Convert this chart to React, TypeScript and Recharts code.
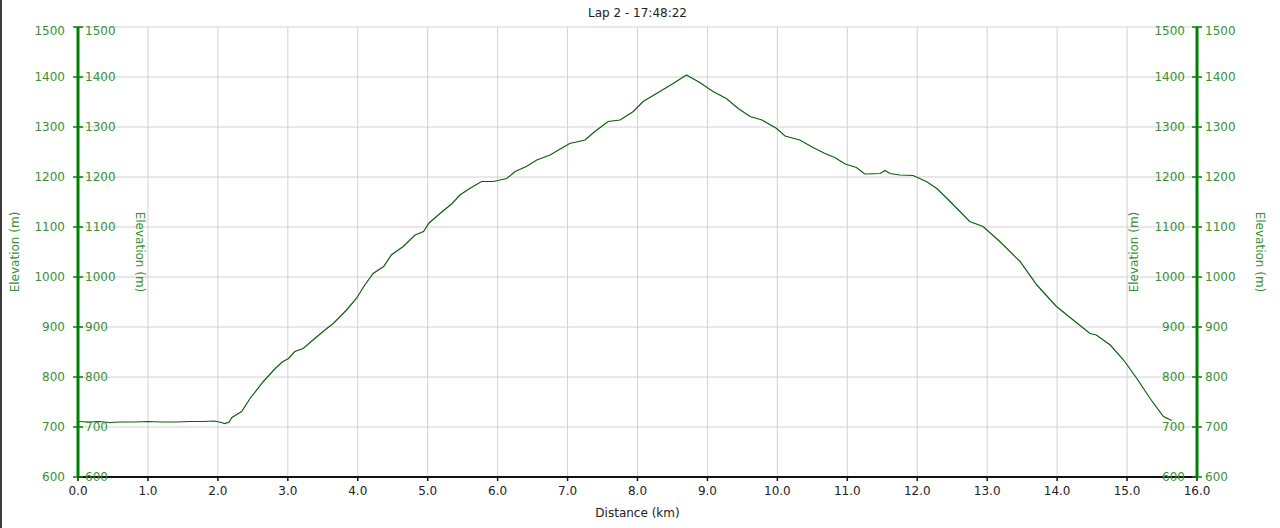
import { LineChart, Line, XAxis, YAxis, CartesianGrid } from 'recharts'

// distance along the lap (km) and the elevation read at each point (m)
const distanceKm = [
  0.0, 0.15, 0.3, 0.45, 0.6, 0.8, 1.0, 1.2, 1.4, 1.6, 1.8, 1.95, 2.05, 2.1, 2.16,
  2.2, 2.34, 2.46, 2.65, 2.82, 2.92, 3.01, 3.1, 3.22, 3.36, 3.53, 3.65, 3.84, 3.98,
  4.1, 4.22, 4.37, 4.48, 4.65, 4.82, 4.94, 5.02, 5.2, 5.35, 5.46, 5.6, 5.77, 5.94,
  6.13, 6.25, 6.41, 6.56, 6.75, 6.87, 7.03, 7.25, 7.39, 7.58, 7.75, 7.94, 8.08,
  8.32, 8.51, 8.7, 8.89, 9.08, 9.27, 9.44, 9.61, 9.78, 9.99, 10.11, 10.32, 10.51,
  10.68, 10.82, 10.97, 11.13, 11.25, 11.47, 11.54, 11.61, 11.75, 11.94, 12.13,
  12.28, 12.47, 12.61, 12.75, 12.94, 13.18, 13.47, 13.71, 13.99, 14.23, 14.47,
  14.56, 14.76, 14.95, 15.14, 15.33, 15.52, 15.64,
]
const elevationM = [
  711, 710, 711, 709, 710, 710, 711, 710, 710, 711, 711, 712, 709, 707, 710,
  719, 731, 757, 791, 817, 830, 837, 851, 857, 874, 894, 907, 934, 957,
  984, 1007, 1021, 1044, 1061, 1084, 1091, 1108, 1130, 1147, 1164, 1177, 1191, 1191,
  1197, 1211, 1221, 1234, 1244, 1254, 1267, 1274, 1291, 1311, 1314, 1331, 1351,
  1371, 1387, 1404, 1389, 1371, 1357, 1337, 1321, 1314, 1297, 1282, 1274, 1259,
  1247, 1239, 1226, 1219, 1206, 1207, 1213, 1207, 1204, 1203, 1191,
  1177, 1151, 1131, 1111, 1101, 1071, 1031, 984, 941, 914, 887,
  884, 864, 834, 797, 757, 721, 713,
]

const distanceTicks = [0, 1, 2, 3, 4, 5, 6, 7, 8, 9, 10, 11, 12, 13, 14, 15, 16]
const elevationTicks = [600, 700, 800, 900, 1000, 1100, 1200, 1300, 1400, 1500]

const chartTitle = 'Lap 2 - 17:48:22'
const xTitle = 'Distance (km)'
const yTitle = 'Elevation (m)'

const data = distanceKm.map((d, i) => ({ dist: d, elev: elevationM[i] }))

const W = 1280
const H = 528
const TOP = 27
const LEFT_W = 78
const RIGHT_W = 83
const X_H = 51
const PLOT_BOTTOM = H - X_H
const PLOT_MID_Y = (TOP + PLOT_BOTTOM) / 2
const PLOT_MID_X = LEFT_W + (W - LEFT_W - RIGHT_W) / 2

const TICK_SIZE = 5
const TICK_MARGIN = 8
const FONT = '"DejaVu Sans", Verdana, sans-serif'
const AXIS_GREEN = '#008000'
const LABEL_GREEN = '#3a8f3a'

// both sides of the elevation axis carry a label pair: one outside, one inside
function DoubleTick(props: any) {
  const { x, y, payload, side } = props
  const ax = side === 'left' ? x + TICK_SIZE + TICK_MARGIN : x - TICK_SIZE - TICK_MARGIN
  const ty = payload.value === 1500 ? y + 4 : y
  const before = side === 'left' ? 13 : 12
  const after = side === 'left' ? 7 : 8
  return (
    <g>
      <line x1={ax - 5} x2={ax + 5} y1={y} y2={y} stroke={AXIS_GREEN} strokeWidth={1.5} />
      <text x={ax - before} y={ty} dy="0.36em" textAnchor="end" fill={LABEL_GREEN} fontSize={12} fontFamily={FONT}>
        {payload.value}
      </text>
      <text x={ax + after} y={ty} dy="0.36em" textAnchor="start" fill={LABEL_GREEN} fontSize={12} fontFamily={FONT}>
        {payload.value}
      </text>
    </g>
  )
}

// rotated axis titles: one reading upward, one reading downward
function SideTitle({ x, up }: { x: number; up: boolean }) {
  return (
    <text
      x={x}
      y={PLOT_MID_Y}
      textAnchor="middle"
      dy="0.36em"
      transform={`rotate(${up ? -90 : 90} ${x} ${PLOT_MID_Y})`}
      fill={LABEL_GREEN}
      fontSize={12}
      fontFamily={FONT}
    >
      {yTitle}
    </text>
  )
}

function LeftTitles() {
  return (
    <g>
      <SideTitle x={15} up />
      <SideTitle x={140} up={false} />
    </g>
  )
}

function RightTitles() {
  return (
    <g>
      <SideTitle x={1134} up />
      <SideTitle x={1260} up={false} />
    </g>
  )
}

function XTitles() {
  return (
    <g>
      <text x={PLOT_MID_X} y={513} dy="0.36em" textAnchor="middle" fill="#222" fontSize={12} fontFamily={FONT}>
        {xTitle}
      </text>
      <text x={PLOT_MID_X} y={13} dy="0.36em" textAnchor="middle" fill="#222" fontSize={12} fontFamily={FONT}>
        {chartTitle}
      </text>
    </g>
  )
}

export default function App() {
  return (
    <div style={{ position: 'absolute', left: 0, top: 0, width: W, height: H, background: '#fff' }}>
      <LineChart
        width={W}
        height={H}
        data={data}
        margin={{ top: TOP, right: 0, left: 0, bottom: 0 }}
        style={{ fontFamily: FONT }}
      >
        <CartesianGrid yAxisId="left" stroke="#d2d2d2" strokeWidth={1} />
        <XAxis
          dataKey="dist"
          type="number"
          domain={[0, 16]}
          ticks={distanceTicks}
          interval={0}
          height={X_H}
          tickFormatter={(v: number) => v.toFixed(1)}
          tick={{ fill: '#222', fontSize: 12, fontFamily: FONT }}
          tickSize={4}
          tickMargin={5}
          stroke="#111"
          axisLine={{ stroke: '#111', strokeWidth: 2 }}
          tickLine={{ stroke: '#111', strokeWidth: 1.5 }}
          label={<XTitles />}
        />
        <YAxis
          yAxisId="left"
          orientation="left"
          type="number"
          width={LEFT_W}
          domain={[600, 1500]}
          allowDataOverflow
          ticks={elevationTicks}
          interval={0}
          tickSize={TICK_SIZE}
          tickMargin={TICK_MARGIN}
          tickLine={false}
          axisLine={{ stroke: AXIS_GREEN, strokeWidth: 3 }}
          tick={<DoubleTick side="left" />}
          label={<LeftTitles />}
        />
        <YAxis
          yAxisId="right"
          orientation="right"
          type="number"
          width={RIGHT_W}
          domain={[600, 1500]}
          allowDataOverflow
          ticks={elevationTicks}
          interval={0}
          tickSize={TICK_SIZE}
          tickMargin={TICK_MARGIN}
          tickLine={false}
          axisLine={{ stroke: AXIS_GREEN, strokeWidth: 3 }}
          tick={<DoubleTick side="right" />}
          label={<RightTitles />}
        />
        <Line
          yAxisId="left"
          dataKey="elev"
          type="linear"
          stroke="#0d5f0d"
          strokeWidth={1.2}
          dot={false}
          isAnimationActive={false}
        />
      </LineChart>
      <div style={{ position: 'absolute', left: 0, top: 0, width: 2, height: H, background: '#3c3c3c' }} />
    </div>
  )
}
